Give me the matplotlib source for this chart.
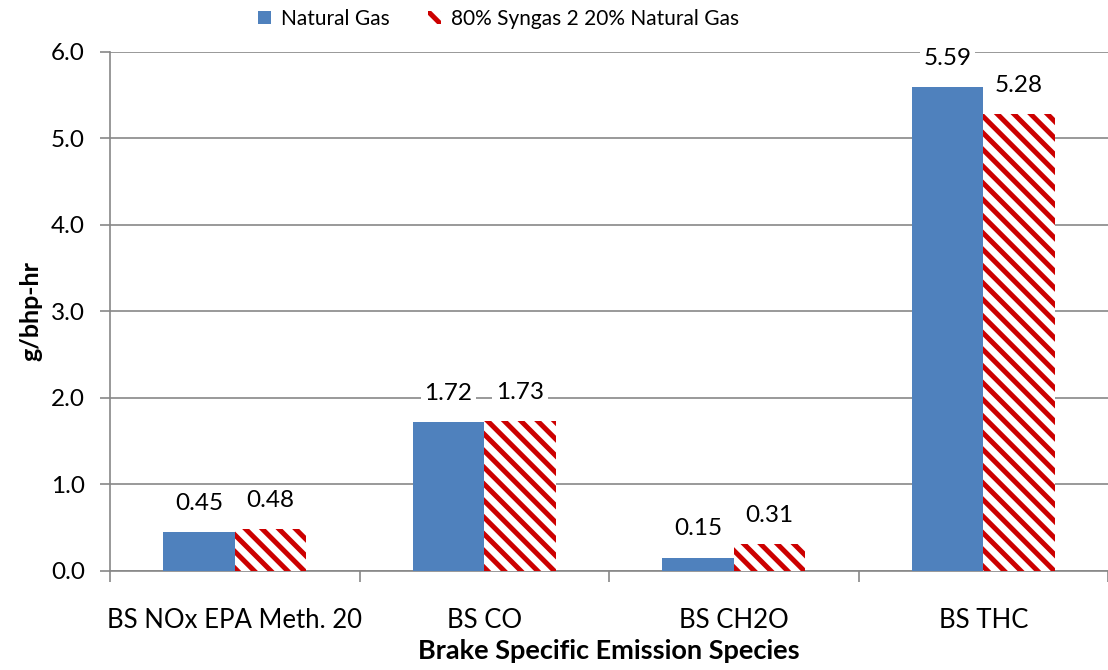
import numpy as np
import matplotlib
matplotlib.use("Agg")
import matplotlib.pyplot as plt
from matplotlib.patches import Patch

categories = ["BS NOx EPA Meth. 20", "BS CO", "BS CH2O", "BS THC"]
natural_gas = [0.45, 1.72, 0.15, 5.59]
syngas_mix = [0.48, 1.73, 0.31, 5.28]
series_names = ["Natural Gas", "80% Syngas 2 20% Natural Gas"]

BLUE = "#4F81BD"
RED = "#CC0000"
GRID = "#878787"

plt.rcParams["font.family"] = ["Lato", "DejaVu Sans"]
plt.rcParams["hatch.linewidth"] = 3.6

fig = plt.figure(figsize=(11.08, 6.70), dpi=100)
ax = fig.add_axes([0.0993, 0.1478, 0.9007, 0.7746])

x = np.arange(len(categories))
w = 0.287
b1 = ax.bar(x - w / 2, natural_gas, w, color=BLUE, linewidth=0, zorder=3)
b2 = ax.bar(x + w / 2, syngas_mix, w, facecolor="white", edgecolor=RED,
            hatch="\\\\", linewidth=0, zorder=3)

# value labels sit on a white box so the gridlines break around them
for bars, vals in ((b1, natural_gas), (b2, syngas_mix)):
    for r, v in zip(bars, vals):
        ax.annotate(f"{v:.2f}", (r.get_x() + r.get_width() / 2, v),
                    xytext=(0, 29), textcoords="offset pixels",
                    ha="center", va="center", fontsize=17.5, zorder=5,
                    bbox=dict(boxstyle="square,pad=0.15", fc="white", ec="none"))

ax.set_xlim(-0.5, len(categories) - 0.5)
ax.set_ylim(0, 6.0)
ax.set_yticks(np.arange(0, 6.01, 1.0))
ax.set_yticklabels([f"{t:.1f}" for t in np.arange(0, 6.01, 1.0)], fontsize=17.5)
ax.yaxis.grid(True, color=GRID, lw=1.2, zorder=0)

ax.set_xticks(x)
ax.set_xticklabels(categories, fontsize=18.5)
ax.set_xticks(np.arange(-0.5, len(categories)), minor=True)
ax.tick_params(axis="x", which="major", length=0, pad=27)
ax.tick_params(axis="x", which="minor", length=8, width=1.2, color=GRID)
ax.tick_params(axis="y", length=7, width=1.2, color=GRID, pad=11)

for s in ("top", "right"):
    ax.spines[s].set_visible(False)
for s in ("left", "bottom"):
    ax.spines[s].set_color(GRID)
    ax.spines[s].set_linewidth(1.2)

ax.set_ylabel("g/bhp-hr", fontsize=18, fontweight="bold", labelpad=6)
ax.set_xlabel("Brake Specific Emission Species", fontsize=19.5,
              fontweight="bold", labelpad=4)

handles = [Patch(facecolor=BLUE, linewidth=0),
           Patch(facecolor="white", edgecolor=RED, hatch="\\\\", linewidth=0)]
fig.legend(handles, series_names, loc="center", bbox_to_anchor=(0.45, 0.972),
           ncol=2, frameon=False, fontsize=15, handlelength=0.62,
           handleheight=0.62, handletextpad=0.5, columnspacing=1.8)

fig.savefig("out.png", dpi=100)
